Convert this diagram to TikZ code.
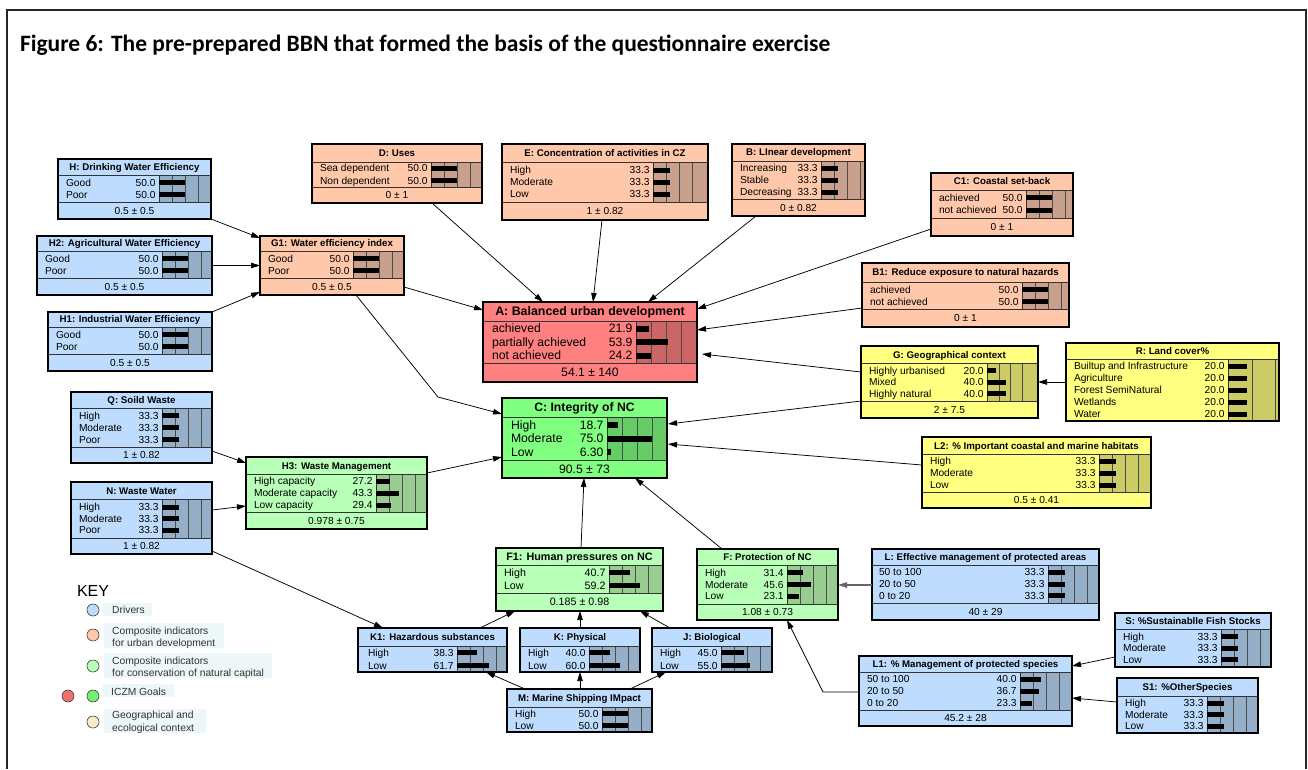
\documentclass[tikz,border=0pt]{standalone}
\usepackage{fontspec}
\setmainfont{Liberation Sans}
\newfontfamily\figfont{Carlito}
\usetikzlibrary{arrows.meta}

\definecolor{bluefill}{HTML}{BDDCFE}
\definecolor{bluebar}{HTML}{95AFC8}
\definecolor{orfill}{HTML}{FFC8AA}
\definecolor{orbar}{HTML}{C8A08C}
\definecolor{redfill}{HTML}{FF8080}
\definecolor{redbar}{HTML}{CC6666}
\definecolor{grfill}{HTML}{80FF80}
\definecolor{grbar}{HTML}{66CC66}
\definecolor{lgfill}{HTML}{B8FFB8}
\definecolor{lgbar}{HTML}{99CC90}
\definecolor{yefill}{HTML}{FFFF80}
\definecolor{yebar}{HTML}{CCCC66}
\definecolor{keybg}{HTML}{EDF6F8}
\definecolor{kblue}{HTML}{BDDCFE}
\definecolor{korange}{HTML}{FFC8AA}
\definecolor{klgreen}{HTML}{B8FFB8}
\definecolor{kred}{HTML}{F07070}
\definecolor{kgreen}{HTML}{70F070}
\definecolor{kcream}{HTML}{F8ECC8}

\pgfkeys{/bbn/.cd,
 x1/.store in=\bbx, y1/.store in=\bby, x2/.store in=\bbX, y2/.store in=\bbY,
 t/.store in=\bbT, f/.store in=\bbF, b/.store in=\bbB,
 fillc/.store in=\bbfill, barc/.store in=\bbbar,
 sc/.store in=\bbsc, pitch/.store in=\bbpitch, n/.store in=\bbcount,
 tfs/.store in=\bbtfs, rfs/.store in=\bbrfs, pad/.store in=\bbpad, bh/.store in=\bbbh}

\tikzset{
 sepl/.style={line width=0.7pt, black!80},
 gridl/.style={line width=0.5pt, black!70},
 arr/.style={line width=0.75pt, -{Triangle[length=9pt,width=5.5pt]}},
 txt/.style={inner sep=0pt, outer sep=0pt},
 keyc/.style={circle, draw=black!75, line width=0.6pt, minimum size=12pt, inner sep=0pt},
 keyt/.style={inner sep=0pt, anchor=base west, text=black!80, font=\fontsize{10.3}{12}\selectfont},
}

% #1 name, #2 options, #3 title, #4 rows, #5 footer
\newcommand\bbnode[5]{%
 \pgfkeys{/bbn/.cd, sc=52, pitch=12, tfs=9.7, rfs=10.2, pad=8, bh=5, n=2, #2}%
 \pgfmathsetmacro\bbw{\bbX-\bbx}%
 \pgfmathsetmacro\bbhh{\bbY-\bby}%
 \node[txt, fill=\bbfill, minimum width=\bbw pt, minimum height=\bbhh pt, anchor=north west] (#1) at (\bbx,\bby) {};
 \fill[\bbbar] (\bbB,\bbT) rectangle (\bbX,\bbF);
 \begin{scope}
  \clip (\bbB,\bbT) rectangle (\bbX,\bbF);
  \foreach \p in {0.25,0.5,0.75} \draw[gridl] ({\bbB+\p*\bbsc},\bbT) -- ({\bbB+\p*\bbsc},\bbF);
 \end{scope}
 \draw[sepl] (\bbB,\bbT) -- (\bbB,\bbF);
 \draw[sepl] (\bbx,\bbT) -- (\bbX,\bbT);
 \ifdim\bbF pt<\bbY pt
  \draw[sepl] (\bbx,\bbF) -- (\bbX,\bbF);
  \pgfmathsetmacro\fb{(\bbF+\bbY)/2+0.36*\bbrfs}%
  \node[txt, anchor=base, font=\fontsize{\bbrfs}{\bbrfs}\selectfont] (#1f) at ({(\bbx+\bbX)/2},\fb) {#5};
 \fi
 \pgfmathsetmacro\tb{(\bby+\bbT)/2+0.36*\bbtfs}%
 \node[txt, anchor=base, font=\bfseries\fontsize{\bbtfs}{\bbtfs}\selectfont] (#1t) at ({(\bbx+\bbX)/2},\tb) {#3};
 \foreach \lab/\val/\pc [count=\i from 0] in {#4} {
  \pgfmathsetmacro\ry{(\bbT+\bbF)/2+(\i-(\bbcount-1)/2)*\bbpitch}
  \pgfmathsetmacro\rb{\ry+0.36*\bbrfs}
  \node[txt, anchor=base west, font=\fontsize{\bbrfs}{\bbrfs}\selectfont] (#1l\i) at (\bbx+\bbpad,\rb) {\lab};
  \node[txt, anchor=base east, font=\fontsize{\bbrfs}{\bbrfs}\selectfont] (#1v\i) at (\bbB-3.5,\rb) {\val};
  \fill (\bbB,\ry-\bbbh/2) rectangle (\bbB+\pc*\bbsc/100,\ry+\bbbh/2);
 }
 \draw[line width=1.3pt] (#1.north west) rectangle (#1.south east);
}

\begin{document}
\begin{tikzpicture}[x=1pt,y=-1pt]
\useasboundingbox (0,0) rectangle (1308,769);
\fill[white] (0,0) rectangle (1308,769);
\draw[line width=1.6pt, black!85] (7,769) -- (7,10) -- (1306,10) -- (1306,769);

\node[txt, anchor=base west, font=\figfont\bfseries\fontsize{23.5}{23.5}\selectfont] (figtitle) at (20,51)
 {Figure 6: The pre-prepared BBN that formed the basis of the questionnaire exercise};

% ---- nodes ----
\bbnode{H}{x1=58,y1=159,x2=211,y2=219,t=175,f=202,b=159,fillc=bluefill,barc=bluebar}
 {H: Drinking Water Efficiency}{Good/50.0/50, Poor/50.0/50}{0.5 ± 0.5}
\bbnode{H2}{x1=37,y1=236,x2=212,y2=295,t=251,f=278,b=162,fillc=bluefill,barc=bluebar}
 {H2: Agricultural Water Efficiency}{Good/50.0/50, Poor/50.0/50}{0.5 ± 0.5}
\bbnode{H1}{x1=48,y1=312,x2=212,y2=371,t=327,f=354,b=162,fillc=bluefill,barc=bluebar}
 {H1: Industrial Water Efficiency}{Good/50.0/50, Poor/50.0/50}{0.5 ± 0.5}
\bbnode{G1}{x1=260,y1=236,x2=404,y2=295,t=251,f=278,b=353,fillc=orfill,barc=orbar}
 {G1: Water efficiency index}{Good/50.0/50, Poor/50.0/50}{0.5 ± 0.5}
\bbnode{Q}{x1=71,y1=392,x2=212,y2=463,t=408,f=447,b=162,fillc=bluefill,barc=bluebar,n=3}
 {Q: Soild Waste}{High/33.3/33.3, Moderate/33.3/33.3, Poor/33.3/33.3}{1 ± 0.82}
\bbnode{N}{x1=71,y1=482,x2=212,y2=554,t=499,f=538,b=162,fillc=bluefill,barc=bluebar,n=3,pitch=11.5}
 {N: Waste Water}{High/33.3/33.3, Moderate/33.3/33.3, Poor/33.3/33.3}{1 ± 0.82}
\bbnode{H3}{x1=246,y1=457,x2=427,y2=529,t=474,f=512,b=376,fillc=lgfill,barc=lgbar,n=3}
 {H3: Waste Management}{High capacity/27.2/27.2, Moderate capacity/43.3/43.3, Low capacity/29.4/29.4}{0.978 ± 0.75}
\bbnode{D}{x1=312,y1=144,x2=482,y2=203,t=162,f=187,b=431,fillc=orfill,barc=orbar,pitch=12.5}
 {D: Uses}{Sea dependent/50.0/50, Non dependent/50.0/50}{0 ± 1}
\bbnode{E}{x1=502,y1=144,x2=708,y2=220,t=162,f=202,b=653,fillc=orfill,barc=orbar,n=3}
 {E: Concentration of activities in CZ}{High/33.3/33.3, Moderate/33.3/33.3, Low/33.3/33.3}{1 ± 0.82}
\bbnode{B}{x1=732,y1=144,x2=865,y2=216,t=161,f=199,b=821,fillc=orfill,barc=orbar,n=3}
 {B: LInear development}{Increasing/33.3/33.3, Stable/33.3/33.3, Decreasing/33.3/33.3}{0 ± 0.82}
\bbnode{C1}{x1=931,y1=173,x2=1073,y2=236,t=190,f=218,b=1026,fillc=orfill,barc=orbar,pitch=12.5}
 {C1: Coastal set-back}{achieved/50.0/50, not achieved/50.0/50}{0 ± 1}
\bbnode{B1}{x1=862,y1=263,x2=1069,y2=327,t=282,f=309,b=1022,fillc=orfill,barc=orbar}
 {B1: Reduce exposure to natural hazards}{achieved/50.0/50, not achieved/50.0/50}{0 ± 1}
\bbnode{A}{x1=483,y1=302,x2=697,y2=382,t=321,f=363,b=636,fillc=redfill,barc=redbar,n=3,sc=60,pitch=13.5,tfs=12.4,rfs=12.2,pad=9,bh=6}
 {A: Balanced urban development}{achieved/21.9/21.9, partially achieved/53.9/53.9, not achieved/24.2/24.2}{54.1 ± 140}
\bbnode{G}{x1=861,y1=346,x2=1038,y2=418,t=363,f=401,b=987,fillc=yefill,barc=yebar,n=3,sc=47,pitch=11.5}
 {G: Geographical context}{Highly urbanised/20.0/20, Mixed/40.0/40, Highly natural/40.0/40}{2 ± 7.5}
\bbnode{R}{x1=1066,y1=343,x2=1279,y2=421,t=359,f=421,b=1228,fillc=yefill,barc=yebar,n=5,sc=95}
 {R: Land cover\%}{Builtup and Infrastructure/20.0/20, Agriculture/20.0/20, Forest SemiNatural/20.0/20, Wetlands/20.0/20, Water/20.0/20}{}
\bbnode{L2}{x1=922,y1=437,x2=1151,y2=508,t=454,f=492,b=1099,fillc=yefill,barc=yebar,n=3}
 {L2: \% Important coastal and marine habitats}{High/33.3/33.3, Moderate/33.3/33.3, Low/33.3/33.3}{0.5 ± 0.41}
\bbnode{C}{x1=502,y1=398,x2=667,y2=478,t=417,f=460,b=607,fillc=grfill,barc=grbar,n=3,sc=60,pitch=13.5,tfs=12.2,rfs=12.2,pad=9,bh=6}
 {C: Integrity of NC}{High/18.7/18.7, Moderate/75.0/75.0, Low/6.30/6.3}{90.5 ± 73}
\bbnode{F1}{x1=496,y1=548,x2=663,y2=611,t=565,f=593,b=609,fillc=lgfill,barc=lgbar,pitch=13,tfs=10.8,rfs=10.7}
 {F1: Human pressures on NC}{High/40.7/40.7, Low/59.2/59.2}{0.185 ± 0.98}
\bbnode{F}{x1=697,y1=549,x2=838,y2=620,t=565,f=604,b=787,fillc=lgfill,barc=lgbar,n=3,pitch=11.7}
 {F: Protection of NC}{High/31.4/31.4, Moderate/45.6/45.6, Low/23.1/23.1}{1.08 ± 0.73}
\bbnode{K1}{x1=358,y1=628,x2=507,y2=672,t=646,f=672,b=457,fillc=bluefill,barc=bluebar,pitch=13,pad=10}
 {K1: Hazardous substances}{High/38.3/38.3, Low/61.7/61.7}{}
\bbnode{K}{x1=520,y1=628,x2=640,y2=672,t=646,f=672,b=589,fillc=bluefill,barc=bluebar,pitch=13}
 {K: Physical}{High/40.0/40, Low/60.0/60}{}
\bbnode{J}{x1=652,y1=628,x2=772,y2=672,t=646,f=672,b=721,fillc=bluefill,barc=bluebar,pitch=13}
 {J: Biological}{High/45.0/45, Low/55.0/55}{}
\bbnode{M}{x1=507,y1=689,x2=652,y2=732,t=707,f=732,b=602,fillc=bluefill,barc=bluebar}
 {M: Marine Shipping IMpact}{High/50.0/50, Low/50.0/50}{}
\bbnode{L}{x1=872,y1=549,x2=1099,y2=620,t=565,f=603,b=1048,fillc=bluefill,barc=bluebar,n=3,pitch=11.7,pad=7}
 {L: Effective management of protected areas}{50 to 100/33.3/33.3, 20 to 50/33.3/33.3, 0 to 20/33.3/33.3}{40 ± 29}
\bbnode{S}{x1=1115,y1=613,x2=1271,y2=667,t=629,f=667,b=1221,fillc=bluefill,barc=bluebar,n=3,pitch=11.5}
 {S: \%Sustainablle Fish Stocks}{High/33.3/33.3, Moderate/33.3/33.3, Low/33.3/33.3}{}
\bbnode{L1}{x1=859,y1=656,x2=1072,y2=726,t=672,f=710,b=1020,fillc=bluefill,barc=bluebar,n=3}
 {L1: \% Management of protected species}{50 to 100/40.0/40, 20 to 50/36.7/36.7, 0 to 20/23.3/23.3}{45.2 ± 28}
\bbnode{S1}{x1=1117,y1=678,x2=1258,y2=733,t=696,f=733,b=1207,fillc=bluefill,barc=bluebar,n=3,pitch=11.5}
 {S1: \%OtherSpecies}{High/33.3/33.3, Moderate/33.3/33.3, Low/33.3/33.3}{}

% ---- connectors ----
\draw[arr] (H.south east) -- ([yshift=-2pt]G1.north west);
\draw[arr] (H2.east) -- (G1.west);
\draw[arr] (H1.north east) -- ([yshift=3pt]G1.south west);
\draw[arr] ([yshift=8pt]G1.south east) -- ([yshift=-8pt]A.north west);
\draw[arr] ([xshift=-48pt]G1.south east) -- (438,397) -- ([yshift=-16pt]C.north west);
\draw[arr] ([xshift=-50pt]D.south east) -- ([xshift=60pt]A.north west);
\draw[arr] ([xshift=100pt]E.south west) -- ([xshift=110pt]A.north west);
\draw[arr] ([xshift=24pt]B.south west) -- ([xshift=165pt]A.north west);
\draw[arr] ([yshift=7pt]C1.south west) -- ([yshift=-7pt]A.north east);
\draw[arr] ([yshift=19pt]B1.south west) -- ([yshift=-28pt]A.north east);
\draw[arr] ([yshift=-26pt]G.north west) -- ([xshift=5pt,yshift=-52pt]A.north east);
\draw[arr] ([yshift=-39pt]R.north west) -- ([yshift=-36pt]G.north east);
\draw[arr] ([yshift=17pt]G.south west) -- ([xshift=1pt,yshift=-26pt]C.north east);
\draw[arr] ([yshift=-28pt]L2.north west) -- ([xshift=1pt,yshift=-46pt]C.north east);
\draw[arr] ([yshift=-16pt]H3.north east) -- ([yshift=21pt]C.south west);
\draw[arr] ([yshift=12pt]Q.south east) -- ([yshift=-6pt]H3.north west);
\draw[arr] ([yshift=-28pt]N.north east) -- ([yshift=-49pt]H3.north west);
\draw[arr] ([yshift=3pt]N.south east) -- ([xshift=25pt]K1.north west);
\draw[arr] ([xshift=-27pt]K1.north east) -- ([xshift=19pt]F1.south west);
\draw[arr] ([xshift=60pt]K.north west) -- ([xshift=84pt]F1.south west);
\draw[arr] ([xshift=18pt]J.north west) -- ([xshift=-23pt]F1.south east);
\draw[arr] ([xshift=18pt]M.north west) -- ([xshift=-21pt]K1.south east);
\draw[arr] ([xshift=73pt]M.north west) -- ([xshift=60pt]K.south west);
\draw[arr] ([xshift=-22pt]M.north east) -- ([xshift=14pt]J.south west);
\draw[arr] ([xshift=85pt]F1.north west) -- ([xshift=82pt]C.south west);
\draw[arr] ([xshift=25pt]F.north west) -- ([xshift=-32pt]C.south east);
\draw[arr, black!60, line width=1.1pt] ([yshift=-36pt]L.north west) -- ([yshift=-36pt]F.north east);
\draw[arr] ([yshift=-36pt]L1.north west) -- (823,692) -- ([xshift=90pt]F.south west);
\draw[arr] ([yshift=10pt]S.south west) -- ([yshift=-10pt]L1.north east);
\draw[arr] ([yshift=-24pt]S1.north west) -- ([yshift=-42pt]L1.north east);

% ---- key ----
\node[txt, anchor=base west, font=\fontsize{16}{16}\selectfont] (keytitle) at (77,596) {KEY};
\fill[keybg] (103,603) rectangle (152,616);
\fill[keybg] (104,623) rectangle (224,648);
\fill[keybg] (104,653) rectangle (272,678);
\fill[keybg] (103,684) rectangle (174,697);
\fill[keybg] (104,709) rectangle (206,733);
\node[keyc, fill=kblue] (kc1) at (93,610) {};
\node[keyc, fill=korange] (kc2) at (93,635) {};
\node[keyc, fill=klgreen] (kc3) at (93,666) {};
\node[keyc, fill=kred] (kc4a) at (68,696) {};
\node[keyc, fill=kgreen] (kc4) at (93,696) {};
\node[keyc, fill=kcream] (kc5) at (93,722) {};
\node[keyt] (kt1) at (112,613) {Drivers};
\node[keyt] (kt2a) at (112,634) {Composite indicators};
\node[keyt] (kt2b) at (112,646) {for urban development};
\node[keyt] (kt3a) at (112,664) {Composite indicators};
\node[keyt] (kt3b) at (112,676) {for conservation of natural capital};
\node[keyt] (kt4) at (111,695) {ICZM Goals};
\node[keyt] (kt5a) at (112,718) {Geographical and};
\node[keyt] (kt5b) at (112,731) {ecological context};
\end{tikzpicture}
\end{document}
